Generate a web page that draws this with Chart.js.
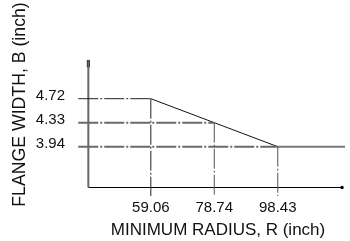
<!DOCTYPE html>
<html>
<head>
<meta charset="utf-8">
<script src="https://cdn.jsdelivr.net/npm/chart.js@4/dist/chart.umd.min.js"></script>
<style>
html,body{margin:0;padding:0;background:#fff;}
#wrap{width:350px;height:241px;position:relative;}
</style>
</head>
<body>
<div id="wrap"><canvas id="c" width="350" height="241"></canvas></div>
<script>
// Data
const radiusTicks = [59.06, 78.74, 98.43];   // minimum radius R (inch)
const flangeWidth = [4.72, 4.33, 3.94];      // flange width B (inch)
const xTitle = 'MINIMUM RADIUS, R (inch)';
const yTitle = 'FLANGE WIDTH, B (inch)';

// scale ranges and frame extents (data units)
const xMin = 40.506, xMax = 119.287;
const yMin = 3.1389, yMax = 6.1126;
const lineStartX = 36.551;  // where the dash-dot leaders begin (left of the axis)
const axisX = 39.68;        // drawn vertical axis
const axisY = 3.277;        // drawn horizontal axis
const axisTop = 5.35;
const axisRight = 118.37;

const DASH = [20, 2, 2, 2];
const datasets = [];

flangeWidth.forEach((b, i) => {
  // horizontal dash-dot leaders
  datasets.push({
    data: [{x: lineStartX, y: b}, {x: radiusTicks[i], y: b}],
    borderColor: i === 0 ? '#222' : '#6a6a6a',
    borderWidth: i === 0 ? 1 : 2,
    borderDash: DASH
  });
  // vertical dash-dot leaders
  datasets.push({
    data: [{x: radiusTicks[i], y: b}, {x: radiusTicks[i], y: yMin}],
    borderColor: i === 0 ? '#222' : '#555',
    borderWidth: 1,
    borderDash: DASH
  });
});

// main sloped curve
datasets.push({
  data: radiusTicks.map((r, i) => ({x: r, y: flangeWidth[i]})),
  borderColor: '#111', borderWidth: 1
});
// constant tail
datasets.push({
  data: [{x: radiusTicks[2], y: flangeWidth[2]}, {x: xMax, y: flangeWidth[2]}],
  borderColor: '#777', borderWidth: 2
});
// vertical axis
datasets.push({
  data: [{x: axisX, y: axisY}, {x: axisX, y: axisTop}],
  borderColor: '#666', borderWidth: 2
});
// arrow head of vertical axis
datasets.push({
  data: [{x: axisX, y: axisTop - 0.12}, {x: axisX, y: axisTop}],
  borderColor: '#000', borderWidth: 3
});
// horizontal axis with end dot
datasets.push({
  data: [{x: axisX, y: axisY}, {x: axisRight, y: axisY}],
  borderColor: '#000', borderWidth: 1,
  pointRadius: [0, 1.5], pointStyle: 'rect',
  pointBackgroundColor: '#000', pointBorderColor: '#000'
});

datasets.forEach(d => {
  d.showLine = true;
  d.fill = false;
  if (d.pointRadius === undefined) d.pointRadius = 0;
  d.clip = false;
  d.tension = 0;
});

const FONT = 'Liberation Sans, Arial, sans-serif';
const noPad = s => { s.paddingTop = 0; s.paddingBottom = 0; s.paddingLeft = 0; s.paddingRight = 0; };

new Chart(document.getElementById('c'), {
  type: 'scatter',
  data: {datasets},
  options: {
    responsive: false,
    animation: false,
    events: [],
    layout: {padding: {left: 0, right: 0, top: 13, bottom: 0}},
    plugins: {legend: {display: false}, tooltip: {enabled: false}},
    scales: {
      x: {
        type: 'linear', bounds: 'data',
        afterDataLimits: s => { s.min = xMin; s.max = xMax; },
        afterBuildTicks: s => { s.ticks = radiusTicks.map(v => ({value: v})); },
        afterFit: s => { s.height = 45; noPad(s); },
        grid: {display: false, drawTicks: false},
        border: {display: false},
        ticks: {
          padding: 3, color: '#111', autoSkip: false, maxRotation: 0,
          font: {family: FONT, size: 15},
          callback: v => Number(v).toFixed(2)
        },
        title: {display: true, text: xTitle, color: '#111',
          font: {family: FONT, size: 17}, padding: {top: 0, bottom: 0}}
      },
      y: {
        type: 'linear', bounds: 'data',
        afterDataLimits: s => { s.min = yMin; s.max = yMax; },
        afterBuildTicks: s => { s.ticks = flangeWidth.map(v => ({value: v})); },
        afterFit: s => { s.width = 91; noPad(s); },
        grid: {display: false, drawTicks: false},
        border: {display: false},
        ticks: {
          padding: 26, color: '#111', autoSkip: false, labelOffset: -3,
          font: {family: FONT, size: 15},
          callback: v => Number(v).toFixed(2)
        },
        title: {display: true, text: yTitle, color: '#111',
          font: {family: FONT, size: 17.7}, padding: {top: 9.5, bottom: 0}}
      }
    }
  }
});
</script>
</body>
</html>
